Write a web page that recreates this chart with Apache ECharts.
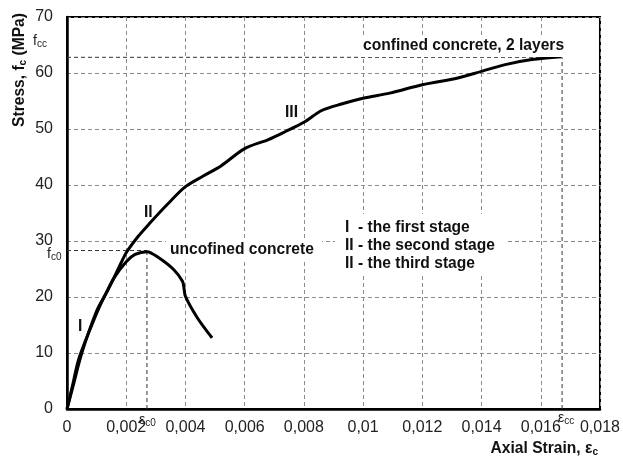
<!DOCTYPE html>
<html><head><meta charset="utf-8">
<script src="https://cdn.jsdelivr.net/npm/echarts@6/dist/echarts.min.js"></script>
<style>html,body{margin:0;padding:0;background:#fff}#c{width:623px;height:456px}</style>
</head><body><div id="c"></div>
<script>
// Confined concrete (2 layers): strain, stress
const confinedStrain = [0,0.0002,0.0004,0.0008,0.0011,0.0015,0.0018,0.002,0.0024,0.0028,0.0034,0.004,0.0046,0.0052,0.006,0.0068,0.0074,0.008,0.0086,0.0093,0.01,0.0109,0.012,0.0132,0.014,0.0148,0.0157,0.0167];
const confinedStress = [0,4.5,9,14.5,18.3,22.5,25.8,27.9,30.8,33.2,36.6,39.7,41.6,43.4,46.5,48.1,49.6,51.2,53.3,54.5,55.5,56.4,57.9,59.1,60.3,61.5,62.4,62.9];
// Unconfined concrete
const unconfStrain = [0,0.0002,0.0005,0.001,0.0013,0.0016,0.002,0.0023,0.0027,0.0031,0.0036,0.0039,0.00395,0.004,0.0044,0.0049];
const unconfStress = [0,4,10,17.5,20.5,23.5,26.3,27.6,28.1,27.0,24.9,22.8,21.6,20.1,16.3,12.7];
// Reference values
const fcc = 62.8, ecc = 0.01672, fc0 = 28.3, ec0 = 0.0027;
const xTicks = [0,0.002,0.004,0.006,0.008,0.01,0.012,0.014,0.016,0.018];
const yTicks = [0,10,20,30,40,50,60,70];

const font = 'Liberation Sans, Arial, sans-serif';
const chart = echarts.init(document.getElementById('c'));
const pair = (xs, ys) => xs.map((x,i)=>[x, ys[i]]);
const fmt = v => { const n = Number(v.toPrecision(6)); return String(n).replace('.', ','); };

chart.setOption({
  animation:false,
  grid:{left:67,right:21,top:17,bottom:47,show:true,borderColor:'#000',borderWidth:2,backgroundColor:'transparent'},
  xAxis:{type:'value',min:0,max:0.018,interval:0.002,
    axisLine:{lineStyle:{color:'#000',width:2.5}},axisTick:{show:false},
    axisLabel:{formatter:fmt,color:'#222',fontSize:16,fontFamily:font,margin:11},
    splitLine:{show:true,lineStyle:{color:'#8c8c8c',type:[4,3],width:1}}},
  yAxis:{type:'value',min:0,max:70,interval:10,
    axisLine:{lineStyle:{color:'#000',width:2.5}},axisTick:{show:false},
    axisLabel:{color:'#222',fontSize:16,fontFamily:font,margin:14},
    splitLine:{show:true,lineStyle:{color:'#8c8c8c',type:[4,3],width:1}}},
  series:[
    {type:'line',name:'ref',data:[[0,fcc],[ecc,fcc]],symbol:'none',silent:true,z:1,
      lineStyle:{color:'#333',width:1,type:[4,3]}},
    {type:'line',name:'ref2',data:[[ecc,0],[ecc,fcc]],symbol:'none',silent:true,z:1,
      lineStyle:{color:'#333',width:1,type:[4,3]}},
    {type:'line',name:'ref3',data:[[0,fc0],[ec0,fc0]],symbol:'none',silent:true,z:1,
      lineStyle:{color:'#333',width:1,type:[4,3]}},
    {type:'line',name:'ref4',data:[[ec0,0],[ec0,fc0]],symbol:'none',silent:true,z:1,
      lineStyle:{color:'#333',width:1,type:[4,3]}},
    {type:'line',name:'unconfined',data:pair(unconfStrain,unconfStress),symbol:'none',smooth:0.3,z:3,
      lineStyle:{color:'#000',width:3}},
    {type:'line',name:'confined',data:pair(confinedStrain,confinedStress),symbol:'none',smooth:0.3,z:3,
      lineStyle:{color:'#000',width:3}}
  ]
});

const P = (x,y) => chart.convertToPixel({gridIndex:0},[x,y]);
const bold = {fontFamily:font,fontSize:15.6,fontWeight:'bold',fill:'#111'};
const box = (x,y,w,h) => ({type:'rect',shape:{x,y,width:w,height:h},style:{fill:'#fff'},z:5,silent:true});
const txt = (x,y,text,extra) => ({type:'text',x,y,z:10,silent:true,style:Object.assign({text},bold,extra||{})});
const p0 = P(0, fcc), p1 = P(0, fc0), p2 = P(ec0, 0), p3 = P(ecc, 0);
const sub = {s:{fontSize:10,fontFamily:font,fill:'#222',verticalAlign:'bottom',padding:[6,0,0,0]},n:{fontSize:14,fontFamily:font,fill:'#222'}};
const boldRich = {b:{fontFamily:font,fontSize:15.6,fontWeight:'bold',fill:'#111'},bs:{fontFamily:font,fontSize:10,fontWeight:'bold',fill:'#111',padding:[6,0,0,0]}};
chart.setOption({graphic:[
  box(358,35,212,22),
  box(166,239,156,22),
  box(335,214,172,62),
  txt(363,46,'confined concrete, 2 layers',{verticalAlign:'middle'}),
  txt(170,250,'uncofined concrete',{verticalAlign:'middle'}),
  txt(345,228,'I  - the first stage',{verticalAlign:'middle'}),
  txt(345,246,'II - the second stage',{verticalAlign:'middle'}),
  txt(345,264,'II - the third stage',{verticalAlign:'middle'}),
  txt(78,327,'I',{verticalAlign:'middle'}),
  txt(144,213,'II',{verticalAlign:'middle'}),
  txt(285,113,'III',{verticalAlign:'middle'}),
  {type:'text',x:p0[0]-34,y:p0[1]-24,z:10,silent:true,style:{text:'{n|f}{s|cc}',rich:sub}},
  {type:'text',x:p1[0]-20,y:p1[1]-4,z:10,silent:true,style:{text:'{n|f}{s|c0}',rich:sub}},
  {type:'text',x:p2[0]-8,y:p2[1]+3,z:10,silent:true,style:{text:'{n|ε}{s|c0}',rich:sub}},
  {type:'text',x:p3[0]-4,y:p3[1]+1,z:10,silent:true,style:{text:'{n|ε}{s|cc}',rich:sub}},
  {type:'text',x:20,y:70,rotation:Math.PI/2,z:10,silent:true,
    style:{text:'{b|Stress, f}{bs|c}{b| (MPa)}',align:'center',verticalAlign:'middle',rich:boldRich}},
  {type:'text',x:598,y:449,z:10,silent:true,
    style:{text:'{b|Axial Strain, ε}{bs|c}',align:'right',verticalAlign:'middle',rich:boldRich}}
]});
</script></body></html>
